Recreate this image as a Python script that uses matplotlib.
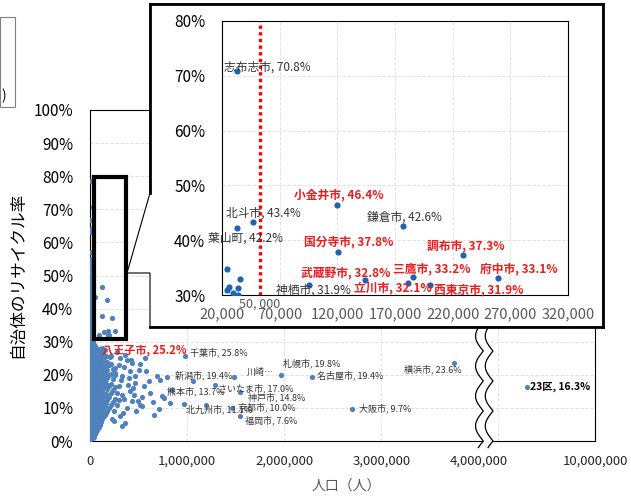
import numpy as np
import matplotlib.pyplot as plt
from matplotlib.patches import Rectangle, Polygon
from matplotlib.lines import Line2D
from matplotlib.transforms import Affine2D

plt.rcParams['font.family'] = ['Noto Sans CJK JP', 'DejaVu Sans']

# ---- data (population, recycling rate %) ----
# named cities in the main chart
main_names = ['八王子市', '千葉市', '新潟市', '札幌市', '川崎…', '名古屋市', '横浜市', '大阪市',
              '23区', 'さいたま市', '熊本市', '神戸市', '北九州市', '京都市', '福岡市']
main_pop = [562e3, 977e3, 790e3, 1970e3, 1480e3, 2290e3, 3750e3, 2700e3,
            9700e3, 1290e3, 740e3, 1540e3, 970e3, 1460e3, 1540e3]
main_rate = [25.2, 25.8, 19.4, 19.8, 19.2, 19.4, 23.6, 9.7,
             16.3, 17.0, 13.7, 14.8, 11.1, 10.0, 7.6]

# named municipalities in the zoomed panel
zoom_names = ['志布志市', '北斗市', '葉山町', '小金井市', '鎌倉市', '国分寺市', '調布市',
              '武蔵野市', '三鷹市', '府中市', '神栖市', '立川市', '西東京市']
zoom_pop = [33000, 46500, 33000, 120000, 177000, 121000, 229000,
            144000, 186000, 259000, 95000, 181000, 200000]
zoom_rate = [70.8, 43.4, 42.2, 46.4, 42.6, 37.8, 37.3,
             32.8, 33.2, 33.1, 31.9, 32.1, 31.9]
tokyo_tama = ['小金井市', '国分寺市', '調布市', '武蔵野市', '三鷹市', '府中市', '立川市', '西東京市']

# unlabeled points in the zoomed panel
small_pop = [24300, 26100, 24300, 29500, 33900, 35600, 33900]
small_rate = [34.7, 31.5, 30.9, 30.4, 31.3, 32.9, 30.0]

# towns under 20,000 people (left edge of main chart)
town_pop_k = [3, 8, 5, 11, 7, 14, 4, 9, 12, 6, 10, 15, 5, 8, 13, 7, 11, 4, 9, 16,
              6, 12, 8, 10, 5, 13, 7, 9, 11, 6, 14, 8, 5, 10, 12, 7, 9, 4, 11, 6,
              8, 13, 5, 10, 7, 9, 6, 8, 5, 7, 6]
town_rate = [0.4, 1.6, 2.9, 4.1, 5.4, 6.6, 7.9, 9.1, 10.4, 11.6, 12.9, 14.1, 15.4, 16.6,
             17.9, 19.1, 20.4, 21.6, 22.9, 24.1, 25.4, 26.6, 27.9, 29.1, 30.3, 31.5, 32.6,
             33.8, 35.0, 36.1, 37.3, 38.4, 39.6, 40.8, 41.9, 43.1, 44.2, 45.4, 46.6, 47.7,
             48.9, 50.5, 51.4, 53.0, 54.1, 55.0, 57.2, 63.2, 66.7, 78.7, 64.1]
town2_pop_k = [14, 12, 15, 13, 16, 14, 12, 15, 13, 16, 14, 12, 15, 13, 16, 14, 12, 15,
               13, 16, 14, 12, 15, 13, 16, 14, 12, 15, 13, 16, 14, 12, 15, 13, 16, 14]
town2_rate = [1.0, 2.3, 3.6, 4.8, 6.1, 7.3, 8.6, 9.8, 11.1, 12.3, 13.6, 14.8, 16.1, 17.3,
              18.6, 19.8, 21.1, 22.3, 23.6, 24.8, 26.1, 27.3, 28.6, 29.8, 31.0, 32.2, 33.4,
              34.6, 35.8, 37.0, 38.2, 39.5, 40.6, 41.8, 43.6, 45.8]

# the dense cloud of cities 20k-260k, read as columns
cloud_pop_k = [28, 37, 45, 54, 62, 71, 80, 90, 100, 112, 125, 138, 150, 165, 180, 197,
               215, 235, 255]
cloud_rate = [
    [0.8, 2.1, 3.5, 4.8, 6.2, 7.5, 8.9, 10.2, 11.6, 12.9, 14.3, 15.6, 17.0, 18.3, 19.7,
     21.0, 22.4, 23.7, 25.1, 26.4, 27.8, 29.0],
    [1.2, 2.6, 4.0, 5.4, 6.8, 8.2, 9.6, 11.0, 12.4, 13.8, 15.2, 16.6, 18.0, 19.4, 20.8,
     22.2, 23.6, 25.0, 26.4, 27.8, 28.9],
    [1.5, 3.0, 4.4, 5.9, 7.3, 8.8, 10.2, 11.7, 13.1, 14.6, 16.0, 17.5, 18.9, 20.4, 21.8,
     23.3, 24.7, 26.2, 27.6, 28.9],
    [2.0, 3.5, 5.0, 6.5, 8.0, 9.5, 11.0, 12.5, 14.0, 15.5, 17.0, 18.5, 20.0, 21.5, 23.0,
     24.5, 26.0, 27.5, 28.7],
    [2.6, 4.2, 5.8, 7.4, 9.0, 10.6, 12.2, 13.8, 15.4, 17.0, 18.6, 20.2, 21.8, 23.4, 25.0,
     26.6, 28.2],
    [3.2, 4.8, 6.5, 8.1, 9.8, 11.4, 13.1, 14.7, 16.4, 18.0, 19.7, 21.3, 23.0, 24.6, 26.3,
     27.9],
    [3.8, 5.5, 7.2, 8.9, 10.6, 12.3, 14.0, 15.7, 17.4, 19.1, 20.8, 22.5, 24.2, 25.9, 27.6],
    [4.3, 6.1, 7.9, 9.8, 11.6, 13.4, 15.3, 17.1, 18.9, 20.7, 22.6, 24.4, 26.2, 27.9],
    [4.8, 6.9, 8.7, 11.2, 12.8, 15.1, 16.9, 19.2, 20.8, 23.1, 24.9, 26.7],
    [5.6, 7.7, 9.8, 12.0, 14.1, 16.2, 18.3, 20.4, 22.6, 24.7, 26.9],
    [6.5, 8.6, 10.9, 13.2, 15.0, 17.3, 19.6, 21.5, 23.8, 26.0, 28.1],
    [7.2, 9.6, 12.1, 14.5, 16.9, 19.3, 21.8, 24.2, 26.6],
    [7.8, 10.5, 13.5, 16.2, 18.1, 20.7, 22.6, 25.3, 27.4],
    [8.6, 11.4, 14.3, 17.1, 20.0, 22.8, 25.6],
    [9.2, 12.4, 15.8, 18.9, 21.3, 24.0],
    [10.1, 13.3, 16.6, 19.8, 23.0],
    [10.8, 14.6, 17.2, 20.1, 23.2, 25.7],
    [11.9, 15.4, 18.6, 21.8],
    [12.7, 16.4, 19.9, 22.0],
]

# scattered cities outside the cloud
fringe_pop_k = [425, 433, 347, 518, 501, 330, 467, 605, 690, 724, 415, 621, 536, 433, 518,
                381, 707, 827, 364, 312, 244, 295, 278, 330, 261, 381, 209, 312, 467, 1061,
                1190, 535, 844, 280, 230, 300, 320, 350, 390, 410, 450, 470, 340, 300, 360,
                280, 400, 440, 490, 560, 580, 650, 760, 660, 330, 250]
fringe_rate = [24.5, 23.7, 22.5, 23.3, 21.5, 19.5, 17.5, 18.0, 19.7, 18.3, 15.0, 14.5, 13.3,
               12.0, 11.0, 10.0, 9.7, 11.5, 5.5, 7.5, 9.0, 16.5, 14.5, 14.0, 20.5, 24.5, 25.5,
               25.0, 19.5, 18.0, 11.0, 10.7, 15.3, 27.0, 6.5, 12.5, 18.5, 12.8, 16.8, 21.0,
               13.8, 9.0, 8.5, 23.0, 26.0, 11.0, 19.0, 16.0, 12.0, 16.5, 21.0, 11.8, 13.0,
               8.0, 4.5, 6.0]

main_xticks = [0, 1e6, 2e6, 3e6, 4e6, 5.2e6]
main_xlabels = ['0', '1,000,000', '2,000,000', '3,000,000', '4,000,000', '10,000,000']
KU_X = 4.5e6          # 23区 is drawn past the axis break

# ---- assemble ----
all_pop = [p * 1000 for p in town_pop_k + town2_pop_k + fringe_pop_k]
all_rate = town_rate + town2_rate + fringe_rate
for p, rs in zip(cloud_pop_k, cloud_rate):
    all_pop += [p * 1000] * len(rs)
    all_rate += rs
all_pop += small_pop + zoom_pop
all_rate += small_rate + zoom_rate
main_x = [KU_X if n == '23区' else p for n, p in zip(main_names, main_pop)]

W, H = 631, 500
fig = plt.figure(figsize=(W / 100, H / 100), dpi=100)
pix = Affine2D().scale(1 / W, -1 / H).translate(0, 1) + fig.transFigure


def box(l, t, r, b):
    return [l / W, 1 - b / H, (r - l) / W, (b - t) / H]


BLUE = '#4f81bd'
RED = '#ee1c1c'
TXT = '#333333'

# ---- main chart ----
ax = fig.add_axes(box(90, 110, 595, 441), zorder=1)
ax.scatter(all_pop, all_rate, s=14, color=BLUE, lw=0, zorder=3)
ax.scatter(main_x, main_rate, s=14, color=BLUE, lw=0, zorder=3)
ax.set_xlim(0, 5.2e6)
ax.set_ylim(0, 100)
ax.set_yticks(range(0, 101, 10))
ax.set_yticklabels([f'{v}%' for v in range(0, 101, 10)])
ax.set_xticks(main_xticks)
ax.set_xticklabels(main_xlabels)
ax.tick_params(axis='y', length=0, pad=12, labelsize=11, labelcolor='black')
ax.tick_params(axis='x', length=0, pad=10, labelsize=9.5, labelcolor='#262626')
for y in range(10, 100, 10):
    ax.axhline(y, color='#dcdcdc', lw=0.6, ls=(0, (4, 2)), zorder=1)
for x in [1e6, 2e6, 3e6, 4.2e6]:
    ax.axvline(x, color='#dcdcdc', lw=0.6, ls=(0, (4, 2)), zorder=1)
for s in ax.spines.values():
    s.set_linewidth(0.8)
    s.set_color('black')

# offsets (points) of the label text from each marker
main_off = [(-30.7, 5.5), (3.7, 2.1), (6.0, 0.6), (1.2, 9.0), (9.6, 3.9), (3.3, 0.8),
            (-36, -5.1), (4.9, 0), (2.2, 0), (1.9, -2.4), (3.7, 2.9), (6.1, -4.1),
            (1.3, -3.4), (4.5, 0), (4, -3)]
for n, x, r, off in zip(main_names, main_x, main_rate, main_off):
    text = n if n.endswith('…') else f'{n}, {r:.1f}%'
    if n == '八王子市':
        kw = dict(color=RED, fontsize=8, fontweight='bold')
    elif n == '23区':
        kw = dict(color='black', fontsize=7.5, fontweight='bold')
    else:
        kw = dict(color=TXT, fontsize=6.5)
    ax.annotate(text, (x, r), xytext=off, textcoords='offset points',
                ha='left', va='center', zorder=4, **kw)

# zoom rectangle on the main chart
ax.add_patch(Rectangle((40e3, 30.7), 330e3, 49.1, fill=False, lw=3, ec='black',
                       zorder=5, clip_on=False))

# axis break (double wave)
yy = np.linspace(-2, 36, 300)
wave = 80e3 * np.abs(np.sin(np.pi * yy / 9.06))
left = 4.05e6 - wave
right = 4.15e6 - wave
ax.fill_betweenx(yy, left, right, color='white', zorder=6, clip_on=False, lw=0)
ax.plot(left, yy, color='black', lw=0.9, zorder=7, clip_on=False)
ax.plot(right, yy, color='black', lw=0.9, zorder=7, clip_on=False)

fig.text(17.5 / W, 1 - 275 / H, '自治体のリサイクル率', rotation=90, ha='center',
         va='center', fontsize=12, color='black')
fig.text(346 / W, 1 - 487 / H, '人口（人）', ha='center', va='center', fontsize=10,
         color='#595959')

# partially visible note box at top left
fig.add_artist(Rectangle((0, 17), 15, 90, transform=pix, fill=False, ec='#808080', lw=0.8))
fig.text(6 / W, 1 - 96 / H, ')', ha='right', va='center', fontsize=10, color='black')

# ---- callout frame holding the zoomed panel ----
callout = Polygon([(150, 4), (603, 4), (603, 327), (150, 327), (150, 273), (127, 273),
                   (150, 193)], closed=True, transform=pix, fc='white', ec='black',
                  lw=0.8, zorder=2)
fig.add_artist(callout)
for xs, ys in [([150, 603], [4, 4]), ([603, 603], [4, 327]), ([150, 603], [327, 327]),
               ([150, 150], [4, 193])]:
    fig.add_artist(Line2D(xs, ys, transform=pix, color='black', lw=2, zorder=2.5,
                          solid_capstyle='projecting'))

# ---- zoomed panel ----
axi = fig.add_axes(box(222, 21, 568, 295), zorder=3)
axi.scatter(all_pop, all_rate, s=20, color='#1f64b0', lw=0, zorder=3)
axi.set_xlim(20000, 320000)
axi.set_ylim(30, 80)
axi.set_xticks(range(20000, 320001, 50000))
axi.set_xticklabels([f'{v:,}' for v in range(20000, 320001, 50000)])
axi.set_yticks(range(30, 81, 10))
axi.set_yticklabels([f'{v}%' for v in range(30, 81, 10)])
axi.tick_params(axis='y', length=0, pad=12, labelsize=11, labelcolor='black')
axi.tick_params(axis='x', length=0, pad=9, labelsize=10.5, labelcolor='#595959')
axi.grid(True, color='#dcdcdc', lw=0.6, ls=(0, (4, 2)), zorder=0)
axi.set_axisbelow(True)
for s in axi.spines.values():
    s.set_linewidth(0.8)
    s.set_color('black')
axi.axvline(53000, color='#ff0000', lw=2.4, ls=(0, (1, 1)), zorder=2)
axi.text(53000, 29.6, '50, 000', ha='center', va='top', fontsize=9, color='#595959')

zoom_off = [(-9.4, 3.4), (-19.2, 6.2), (-20.9, -7.1), (-31.2, 7.3), (-26, 6.7),
            (-24.8, 7.6), (-26, 6.7), (-46, 5), (-14.8, 6.1), (-12.7, 6.5),
            (-23.4, -3.9), (-38.7, -3.2), (3.2, -3.9)]
for n, p, r, off in zip(zoom_names, zoom_pop, zoom_rate, zoom_off):
    if n in tokyo_tama:
        kw = dict(color=RED, fontweight='bold')
    else:
        kw = dict(color=TXT)
    axi.annotate(f'{n}, {r:.1f}%', (p, r), xytext=off, textcoords='offset points',
                 ha='left', va='center', fontsize=8.5, zorder=4, **kw)

fig.savefig('out.png', dpi=100)
